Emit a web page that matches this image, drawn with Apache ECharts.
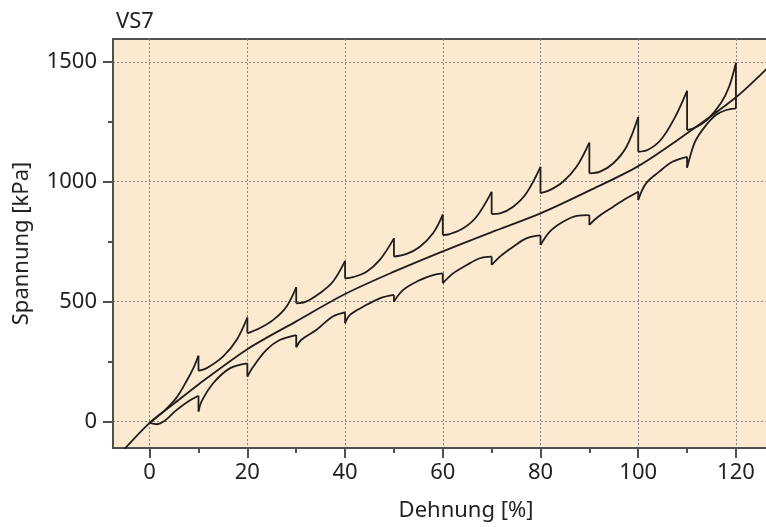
<!DOCTYPE html>
<html>
<head>
<meta charset="utf-8">
<script src="https://cdn.jsdelivr.net/npm/echarts@6/dist/echarts.min.js"></script>
<style>
  html, body { margin: 0; padding: 0; background: #fff; }
  #main { width: 766px; height: 527px; }
</style>
</head>
<body>
<div id="main"></div>
<script>
// Dehnung [%] / Spannung [kPa]
// Belastung mit Haltephasen (Spannung faellt bei jeder Stufe)
const belastung = [
  [0, -5], [3, 45], [5.5, 100], [7.5, 167], [9, 225], [10, 275],
  [10, 212], [11.6, 222], [15, 271], [17.8, 340], [20, 434],
  [20, 368], [22.5, 389], [25.3, 424], [28, 479], [30, 560],
  [30, 493], [32, 500], [34.8, 535], [37.5, 583], [40, 670],
  [40, 597], [41.6, 602], [44.4, 625], [47.1, 674], [50, 764],
  [50, 688], [52.6, 699], [55.3, 729], [58, 785], [60, 863],
  [60, 778], [61.4, 782], [64.2, 806], [66.9, 854], [70, 958],
  [70, 865], [71.7, 868], [74.4, 896], [77.1, 952], [80, 1062],
  [80, 952], [81.9, 965], [84.6, 1000], [87.4, 1063], [90, 1163],
  [90, 1035], [92.2, 1042], [94.9, 1077], [97.6, 1146], [100, 1270],
  [100, 1125], [101.9, 1132], [104.6, 1174], [107.4, 1264], [110, 1379],
  [110, 1215], [111.8, 1227], [114.2, 1260], [116.9, 1327], [118.6, 1396], [120, 1496],
  [120, 1306]
];

// Entlastung mit Haltephasen
const entlastung = [
  [0, -5], [1.5, -11], [2.7, -2], [4, 20], [5.5, 48], [7.8, 83], [10, 108],
  [10, 42], [10.6, 83], [13, 160], [16.4, 222], [20, 243],
  [20, 188], [21.2, 229], [23.9, 299], [26.6, 340], [30, 361],
  [30, 310], [31, 340], [34.1, 382], [37.5, 438], [40, 455],
  [40, 410], [41, 445], [43.7, 479], [47.1, 514], [50, 528],
  [50, 500], [51.9, 549], [55.3, 590], [58, 611], [60, 618],
  [60, 577], [62.1, 618], [64.9, 653], [67.6, 681], [70, 688],
  [70, 653], [71.7, 688], [74.4, 729], [77.1, 764], [80, 776],
  [80, 736], [81.9, 792], [84.6, 833], [87.4, 858], [90, 861],
  [90, 820], [91.8, 854], [94.9, 896], [97.6, 931], [100, 958],
  [100, 924], [101.6, 993], [104.3, 1042], [107, 1083], [110, 1104],
  [110, 1058], [110.8, 1118], [111.8, 1174], [113.9, 1236], [115.9, 1278], [118, 1299], [120, 1306]
];

// Gleichgewichtskurve
const gleichgewicht = [
  [-6, -133], [0, -5], [5, 75], [10, 155], [20, 302], [30, 418], [40, 532],
  [50, 625], [60, 710], [70, 790], [80, 868], [90, 963], [100, 1065],
  [110, 1202], [120, 1352], [127, 1485]
];

const xTicks = [0, 20, 40, 60, 80, 100, 120];
const xMinorTicks = [10, 30, 50, 70, 90, 110];
const yTicks = [0, 500, 1000, 1500];
const yMinorTicks = [250, 750, 1250];

const font = 'Noto Sans';
const axisColor = '#505050';
const lineColor = '#1e1e1e';
const GAP = ['-', '-'];

// Kurve an den senkrechten Spruengen (gleiche Dehnung) aufteilen:
// die Bogenstuecke werden geglaettet, die Spruenge bleiben gerade
function splitCurve(points) {
  const arcs = [];
  const drops = [];
  let run = [points[0]];
  for (let i = 1; i < points.length; i++) {
    const prev = points[i - 1];
    const cur = points[i];
    if (cur[0] === prev[0]) {
      arcs.push(...run, GAP);
      drops.push(prev, cur, GAP);
      run = [cur];
    } else {
      run.push(cur);
    }
  }
  if (run.length > 1) arcs.push(...run);
  return { arcs, drops };
}

function lineSeries(name, data, smooth) {
  return {
    name,
    type: 'line',
    data,
    symbol: 'none',
    smooth,
    connectNulls: false,
    clip: true,
    lineStyle: { color: lineColor, width: 1.8 }
  };
}

const belastungTeile = splitCurve(belastung);
const entlastungTeile = splitCurve(entlastung);

const chart = echarts.init(document.getElementById('main'), null, { renderer: 'canvas' });

const xRange = { min: -7.5, max: 137 };
const yRange = { min: -110, max: 1595 };

const option = {
  animation: false,
  backgroundColor: '#ffffff',
  title: {
    text: 'VS7',
    left: 111,
    top: 6,
    textStyle: { fontFamily: font, fontSize: 22, fontWeight: 'normal', color: '#222' }
  },
  grid: {
    left: 113,
    top: 39,
    right: -53,
    bottom: 79,
    show: true,
    backgroundColor: '#FCEAD0',
    borderColor: axisColor,
    borderWidth: 2,
    containLabel: false,
    outerBoundsMode: 'none'
  },
  xAxis: [
    {
      type: 'value',
      min: xRange.min,
      max: xRange.max,
      position: 'bottom',
      name: 'Dehnung [%]',
      nameLocation: 'middle',
      nameGap: 52,
      nameMoveOverlap: false,
      nameTextStyle: { fontFamily: font, fontSize: 22, color: '#222' },
      axisLine: { show: true, onZero: false, lineStyle: { color: axisColor, width: 2 } },
      axisTick: { show: true, customValues: xTicks, length: 10, lineStyle: { color: axisColor, width: 2 } },
      axisLabel: { customValues: xTicks, fontFamily: font, fontSize: 22, color: '#222', margin: 14,
        formatter: v => String(v) },
      splitLine: { show: true, lineStyle: { type: [2, 2], color: '#858585', width: 1 } }
    },
    {
      type: 'value',
      min: xRange.min,
      max: xRange.max,
      position: 'bottom',
      axisLine: { show: false, onZero: false },
      axisTick: { show: true, customValues: xMinorTicks, length: 5, lineStyle: { color: axisColor, width: 2 } },
      axisLabel: { show: false },
      splitLine: { show: false }
    }
  ],
  yAxis: [
    {
      type: 'value',
      min: yRange.min,
      max: yRange.max,
      position: 'left',
      name: 'Spannung [kPa]',
      nameLocation: 'middle',
      nameGap: 80,
      nameMoveOverlap: false,
      nameTextStyle: { fontFamily: font, fontSize: 22, color: '#222' },
      axisLine: { show: true, onZero: false, lineStyle: { color: axisColor, width: 2 } },
      axisTick: { show: true, customValues: yTicks, length: 10, lineStyle: { color: axisColor, width: 2 } },
      axisLabel: { customValues: yTicks, fontFamily: font, fontSize: 22, color: '#222', margin: 16,
        formatter: v => String(v) },
      splitLine: { show: true, lineStyle: { type: [2, 2], color: '#858585', width: 1 } }
    },
    {
      type: 'value',
      min: yRange.min,
      max: yRange.max,
      position: 'left',
      axisLine: { show: false, onZero: false },
      axisTick: { show: true, customValues: yMinorTicks, length: 5, lineStyle: { color: axisColor, width: 2 } },
      axisLabel: { show: false },
      splitLine: { show: false }
    }
  ],
  series: [
    lineSeries('Belastung', belastungTeile.arcs, 0.35),
    lineSeries('Belastung Haltephasen', belastungTeile.drops, false),
    lineSeries('Entlastung', entlastungTeile.arcs, 0.35),
    lineSeries('Entlastung Haltephasen', entlastungTeile.drops, false),
    lineSeries('Gleichgewicht', gleichgewicht, 0.3)
  ]
};

chart.setOption(option);
</script>
</body>
</html>
